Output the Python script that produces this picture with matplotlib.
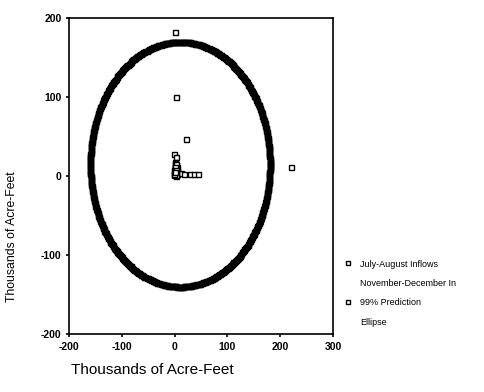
import numpy as np
import matplotlib
matplotlib.use("Agg")
import matplotlib.pyplot as plt
from matplotlib.lines import Line2D

plt.rcParams['font.family'] = ['Liberation Sans', 'DejaVu Sans']
plt.rcParams['axes.unicode_minus'] = False

# July-August inflows (x) vs November-December inflows (y), thousands of acre-feet
jul_aug = [0, 3, 22, 220, -1, 3, 1, 2, 0, 4, 1, 3, 0, 2, 5, 12, 18, 30, 37, 44,
           0, 2, 1, -2, 3, -1, 1, 4, 0, 2, -2, 3, -1, 1, 2, 0]
nov_dec = [182, 100, 47, 12, 28, 24, 18, 14, 10, 8, 6, 4, 2, 0, 2, 4, 3, 3, 3, 3,
           12, 6, 16, 1, 1, 5, 9, 11, 13, 15, 7, 10, 3, 12, 8, 5]

# 99% prediction ellipse: center and semi-axes
ellipse_center = (10, 15)
ellipse_axes = (170, 155)

x_ticks = [-200, -100, 0, 100, 200, 300]
y_ticks = [-200, -100, 0, 100, 200]

fig = plt.figure(figsize=(4.84, 3.92), dpi=100)
ax = fig.add_axes([0.1426, 0.148, 0.5455, 0.806])

# Ellipse drawn as a dense run of square markers
t = np.linspace(0, 2 * np.pi, 500)
ex = ellipse_center[0] + ellipse_axes[0] * np.cos(t)
ey = ellipse_center[1] + ellipse_axes[1] * np.sin(t)
ax.plot(ex, ey, linestyle='none', marker='s', markersize=3.6,
        markerfacecolor='black', markeredgecolor='black')

ax.plot(jul_aug, nov_dec, linestyle='none', marker='s', markersize=3.6,
        markerfacecolor='white', markeredgecolor='black', markeredgewidth=1.0)

ax.set_xlim(-200, 300)
ax.set_ylim(-200, 200)
ax.set_xticks(x_ticks)
ax.set_yticks(y_ticks)
ax.tick_params(direction='out', length=2, width=1.2, labelsize=7.5)
for lbl in ax.get_xticklabels() + ax.get_yticklabels():
    lbl.set_fontweight('bold')
for s in ax.spines.values():
    s.set_linewidth(1.2)

ax.set_ylabel("Thousands of Acre-Feet", fontsize=8.8)
ax.yaxis.set_label_coords(-0.193, 0.307)
fig.text(0.315, 0.045, "Thousands of Acre-Feet", fontsize=11, ha='center')

# Legend: marker on the first line of each entry, wrapped text on its own row
square = dict(linestyle='none', marker='s', markersize=3,
              markerfacecolor='white', markeredgecolor='black')
handles = [Line2D([], [], **square), Line2D([], [], linestyle='none'),
           Line2D([], [], **square), Line2D([], [], linestyle='none')]
labels = ["July-August Inflows", "November-December In", "99% Prediction", "Ellipse"]
fig.legend(handles, labels, loc='upper left', bbox_to_anchor=(0.705, 0.347),
           frameon=False, fontsize=6.5, handlelength=0.8, handletextpad=0.9,
           labelspacing=1.15, borderaxespad=0)

fig.savefig("out.png", dpi=100)
